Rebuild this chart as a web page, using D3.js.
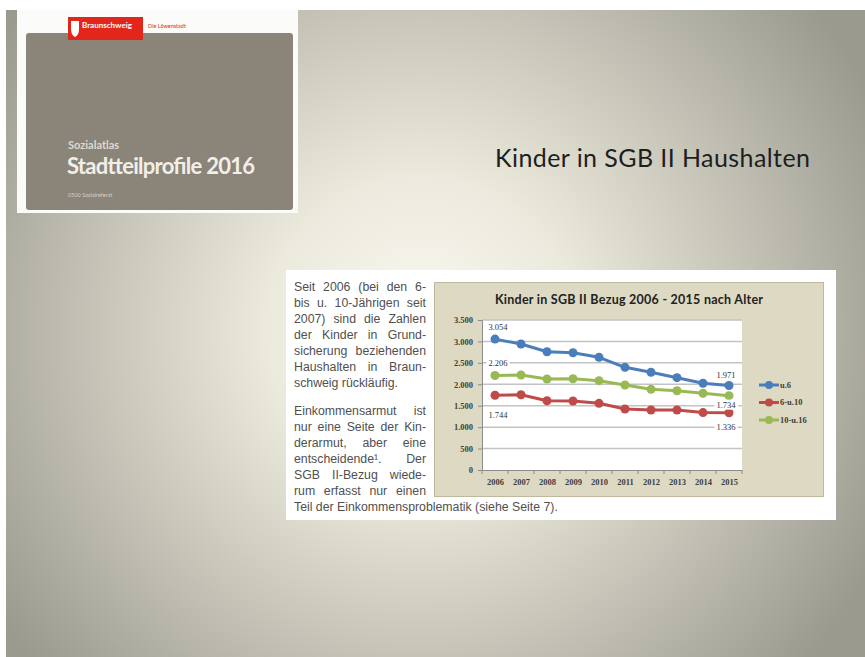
<!DOCTYPE html>
<html>
<head>
<meta charset="utf-8">
<script src="https://cdn.jsdelivr.net/npm/d3@7/dist/d3.min.js"></script>
<style>
  body { margin: 0; background: #ffffff; }
  svg { display: block; }
</style>
</head>
<body>
<div id="chart"></div>
<script>
// data
const years = [2006, 2007, 2008, 2009, 2010, 2011, 2012, 2013, 2014, 2015];
const seriesNames = ["u.6", "6-u.10", "10-u.16"];
const valuesU6 = [3054, 2940, 2760, 2737, 2630, 2396, 2280, 2154, 2023, 1971];
const valuesU10 = [1744, 1755, 1617, 1610, 1556, 1423, 1400, 1400, 1340, 1336];
const valuesU16 = [2206, 2217, 2123, 2130, 2084, 1983, 1882, 1850, 1790, 1734];
const yTicks = [0, 500, 1000, 1500, 2000, 2500, 3000, 3500];
const seriesColors = ["#4a7ebb", "#be4b48", "#98b954"];

const chartTitle = "Kinder in SGB II Bezug 2006  - 2015 nach Alter";
const slideTitle = "Kinder in SGB II Haushalten";
const paragraph1 = [
    "Seit 2006 (bei den 6-",
    "bis u. 10-Jährigen seit",
    "2007) sind die Zahlen",
    "der Kinder in Grund-",
    "sicherung beziehenden",
    "Haushalten in Braun-",
    "schweig rückläufig."
];
const paragraph2 = [
    "Einkommensarmut ist",
    "nur eine Seite der Kin-",
    "derarmut, aber eine",
    "entscheidende¹. Der",
    "SGB II-Bezug wiede-",
    "rum erfasst nur einen",
    "Teil der Einkommensproblematik (siehe Seite 7)."
];

const series = seriesNames.map((name, i) => ({
    name: name,
    color: seriesColors[i],
    values: [valuesU6, valuesU10, valuesU16][i].map((v, j) => ({ year: years[j], value: v }))
}));

const de = d3.formatLocale({ decimal: ",", thousands: ".", grouping: [3], currency: ["", " €"] });
const fmt = de.format(",");

// 1. SVG + BACKGROUND
const W = 865, H = 657;
const svg = d3.select("#chart")
    .append("svg")
    .attr("width", W)
    .attr("height", H);

const defs = svg.append("defs");
const grad = defs.append("radialGradient")
    .attr("id", "bg")
    .attr("gradientUnits", "userSpaceOnUse")
    .attr("cx", 420).attr("cy", 330).attr("r", 510);
grad.append("stop").attr("offset", 0).attr("stop-color", "#fbf9f2");
grad.append("stop").attr("offset", 0.3).attr("stop-color", "#eceadd");
grad.append("stop").attr("offset", 0.62).attr("stop-color", "#c8c6b9");
grad.append("stop").attr("offset", 1).attr("stop-color", "#9b9a8f");

svg.append("rect")
    .attr("x", 6).attr("y", 10)
    .attr("width", W - 6).attr("height", H - 10)
    .attr("fill", "url(#bg)");

// 2. COVER THUMBNAIL (top left)
const cover = svg.append("g");
cover.append("rect")
    .attr("x", 17).attr("y", 10).attr("width", 281).attr("height", 203)
    .attr("fill", "#fbfbf9");
cover.append("rect")
    .attr("x", 26).attr("y", 33).attr("width", 267).attr("height", 177)
    .attr("rx", 3)
    .attr("fill", "#8a8479");
cover.append("rect")
    .attr("x", 68).attr("y", 17).attr("width", 75).attr("height", 23)
    .attr("fill", "#e2261c");
cover.append("path")
    .attr("d", "M71,21 h8 v8 q0,6 -4,8 q-4,-2 -4,-8 z")
    .attr("fill", "#ffffff");
cover.append("text")
    .attr("x", 82).attr("y", 27.5)
    .attr("font-family", "Lato, sans-serif")
    .attr("font-weight", "bold")
    .attr("font-size", "8px")
    .attr("fill", "#ffffff")
    .text("Braunschweig");
cover.append("text")
    .attr("x", 148).attr("y", 27.5)
    .attr("font-family", "Lato, sans-serif")
    .attr("font-size", "5.5px")
    .attr("fill", "#e2261c")
    .text("Die Löwenstadt");
cover.append("text")
    .attr("x", 68).attr("y", 149)
    .attr("font-family", "Lato, sans-serif")
    .attr("font-weight", "bold")
    .attr("font-size", "11px")
    .attr("fill", "#dedad2")
    .text("Sozialatlas");
cover.append("text")
    .attr("x", 67).attr("y", 174)
    .attr("font-family", "Lato, sans-serif")
    .attr("font-weight", "bold")
    .attr("font-size", "22px")
    .attr("textLength", 188)
    .attr("fill", "#f2efe9")
    .text("Stadtteilprofile 2016");
cover.append("text")
    .attr("x", 68).attr("y", 197)
    .attr("font-family", "Lato, sans-serif")
    .attr("font-size", "5.5px")
    .attr("fill", "#d6d2ca")
    .text("0500 Sozialreferat");

// 3. SLIDE TITLE
svg.append("text")
    .attr("x", 495).attr("y", 167)
    .attr("font-family", "Lato, sans-serif")
    .attr("font-size", "25px")
    .attr("textLength", 315)
    .attr("fill", "#1e1e1e")
    .text(slideTitle);

// 4. WHITE PANEL + JUSTIFIED TEXT
svg.append("rect")
    .attr("x", 286).attr("y", 270).attr("width", 550).attr("height", 250)
    .attr("fill", "#ffffff");

const textG = svg.append("g")
    .attr("font-family", "'Liberation Sans', Arial, sans-serif")
    .attr("font-size", "12.3px")
    .attr("fill", "#505050");

function drawLine(line, x0, width, y, justify) {
    if (!justify) {
        textG.append("text").attr("x", x0).attr("y", y).text(line);
        return;
    }
    const words = line.split(" ");
    const nodes = words.map(w => textG.append("text").attr("y", y).text(w));
    const widths = nodes.map(n => n.node().getComputedTextLength());
    const gap = (width - d3.sum(widths)) / (words.length - 1);
    let cx = x0;
    nodes.forEach((n, i) => {
        n.attr("x", cx);
        cx += widths[i] + gap;
    });
}

const textX = 294, textW = 132, lineH = 16;
paragraph1.forEach((line, i) => {
    drawLine(line, textX, textW, 291 + i * lineH, i < paragraph1.length - 1);
});
paragraph2.forEach((line, i) => {
    drawLine(line, textX, textW, 415 + i * lineH, i < paragraph2.length - 1);
});

// 5. CHART FRAME
svg.append("rect")
    .attr("x", 434.5).attr("y", 282.5).attr("width", 389).attr("height", 214)
    .attr("fill", "#ddd9c3")
    .attr("stroke", "#bdb89e");

svg.append("text")
    .attr("x", 629).attr("y", 304)
    .attr("text-anchor", "middle")
    .attr("font-family", "Lato, sans-serif")
    .attr("font-weight", "bold")
    .attr("font-size", "12.5px")
    .attr("textLength", 268)
    .attr("fill", "#222222")
    .text(chartTitle);

const plot = { left: 482, right: 742, top: 320, bottom: 470 };

// 6. SCALES
const x = d3.scalePoint()
    .domain(years)
    .range([plot.left, plot.right])
    .padding(0.5);

const xBand = d3.scaleBand()
    .domain(years)
    .range([plot.left, plot.right]);

const y = d3.scaleLinear()
    .domain([0, 3500])
    .range([plot.bottom, plot.top]);

svg.append("rect")
    .attr("x", plot.left).attr("y", plot.top)
    .attr("width", plot.right - plot.left).attr("height", plot.bottom - plot.top)
    .attr("fill", "#ffffff");

// gridlines
svg.append("g")
    .selectAll("line")
    .data(yTicks.filter(d => d > 0))
    .enter()
    .append("line")
    .attr("x1", plot.left).attr("x2", plot.right)
    .attr("y1", d => y(d)).attr("y2", d => y(d))
    .attr("stroke", "#c3c3c3")
    .attr("stroke-width", 1.5);

// 7. AXES
const axisFont = "'Liberation Serif', serif";

const yAxis = svg.append("g")
    .attr("transform", `translate(${plot.left},0)`)
    .call(d3.axisLeft(y).tickValues(yTicks).tickFormat(fmt).tickSize(4).tickPadding(5));
yAxis.select(".domain").attr("stroke", "#8c8c8c");
yAxis.selectAll(".tick line").attr("stroke", "#8c8c8c");
yAxis.selectAll("text")
    .attr("font-family", axisFont)
    .attr("font-weight", "bold")
    .attr("font-size", "8.5px")
    .attr("fill", "#404040");

const xAxis = svg.append("g")
    .attr("transform", `translate(0,${plot.bottom})`)
    .call(d3.axisBottom(x).tickSize(0).tickPadding(9));
xAxis.select(".domain").attr("stroke", "#8c8c8c");
xAxis.selectAll("text")
    .attr("font-family", axisFont)
    .attr("font-weight", "bold")
    .attr("font-size", "8.5px")
    .attr("fill", "#404040");

// category separators under the axis
xAxis.selectAll(".sep")
    .data(years.concat(["end"]))
    .enter()
    .append("line")
    .attr("class", "sep")
    .attr("x1", d => d === "end" ? plot.right : xBand(d))
    .attr("x2", d => d === "end" ? plot.right : xBand(d))
    .attr("y1", 0).attr("y2", 4)
    .attr("stroke", "#8c8c8c");

// 8. LINES + MARKERS
const line = d3.line()
    .x(d => x(d.year))
    .y(d => y(d.value));

series.forEach(s => {
    svg.append("path")
        .datum(s.values)
        .attr("fill", "none")
        .attr("stroke", s.color)
        .attr("stroke-width", 3)
        .attr("stroke-linejoin", "round")
        .attr("d", line);

    svg.append("g")
        .selectAll("circle")
        .data(s.values)
        .enter()
        .append("circle")
        .attr("cx", d => x(d.year))
        .attr("cy", d => y(d.value))
        .attr("r", 4.5)
        .attr("fill", s.color);
});

// 9. DATA LABELS (first and last value of each series)
const labelPlacement = [
    { s: 0, i: 0, dx: 3, dy: -12 },
    { s: 2, i: 0, dx: 3, dy: -12 },
    { s: 1, i: 0, dx: 3, dy: 20 },
    { s: 0, i: 9, dx: -3, dy: -11 },
    { s: 2, i: 9, dx: -3, dy: 9 },
    { s: 1, i: 9, dx: -3, dy: 14 }
];

labelPlacement.forEach(p => {
    const d = series[p.s].values[p.i];
    const lx = x(d.year) + p.dx, ly = y(d.value) + p.dy;
    const g = svg.append("g");
    const t = g.append("text")
        .attr("x", lx).attr("y", ly)
        .attr("dy", "0.35em")
        .attr("text-anchor", "middle")
        .attr("font-family", axisFont)
        .attr("font-size", "8.5px")
        .attr("fill", "#333333")
        .text(fmt(d.value));
    const bb = t.node().getBBox();
    g.insert("rect", "text")
        .attr("x", bb.x - 2).attr("y", bb.y)
        .attr("width", bb.width + 4).attr("height", bb.height)
        .attr("fill", "#ffffff");
});

// 10. LEGEND
const legend = svg.append("g")
    .attr("transform", "translate(759, 385)");

series.forEach((s, i) => {
    const row = legend.append("g")
        .attr("transform", `translate(0, ${i * 17.5})`);
    row.append("line")
        .attr("x1", 0).attr("x2", 20)
        .attr("stroke", s.color)
        .attr("stroke-width", 3);
    row.append("circle")
        .attr("cx", 10).attr("r", 4)
        .attr("fill", s.color);
    row.append("text")
        .attr("x", 21).attr("dy", "0.35em")
        .attr("font-family", axisFont)
        .attr("font-weight", "bold")
        .attr("font-size", "8.5px")
        .attr("fill", "#404040")
        .text(s.name);
});
</script>
</body>
</html>
